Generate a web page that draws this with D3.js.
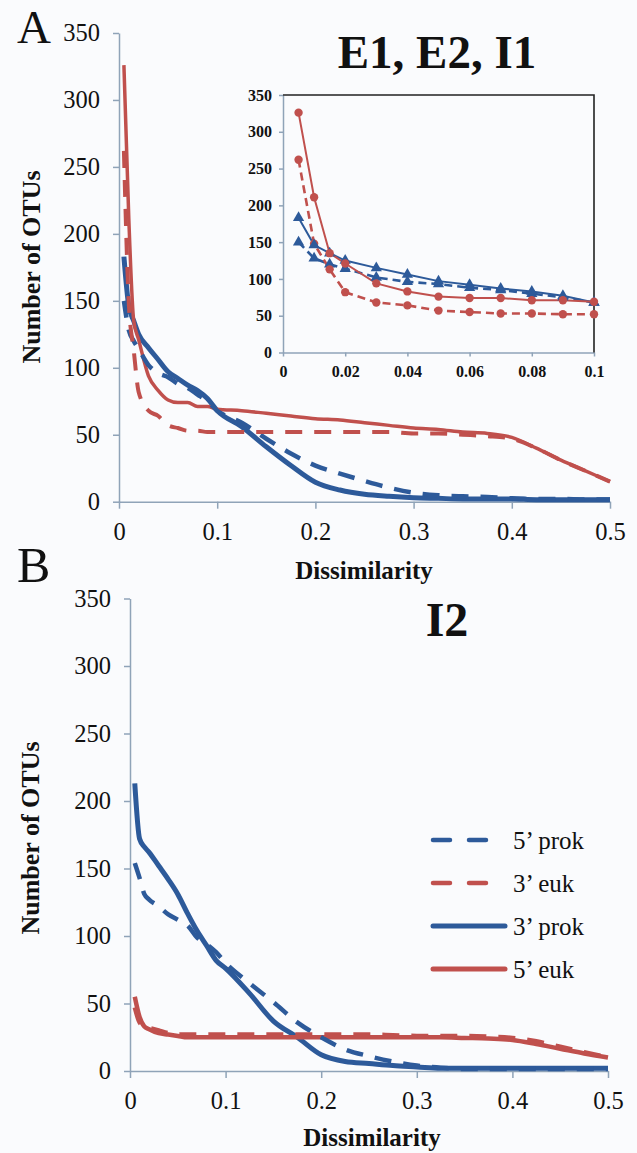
<!DOCTYPE html>
<html>
<head>
<meta charset="utf-8">
<script src="https://cdn.jsdelivr.net/npm/d3@7"></script>
<style>
  html, body { margin: 0; padding: 0; background: #fafbfd; }
  svg { display: block; }
  text { font-family: "Liberation Serif", "Times New Roman", serif; fill: #111; }
</style>
</head>
<body>
<div id="chart"></div>
<script>
// dissimilarity cut-offs (shared by every series)
var dissim = [0.005, 0.01, 0.015, 0.02, 0.03, 0.04, 0.05, 0.06, 0.07, 0.08, 0.09, 0.1,
              0.125, 0.15, 0.175, 0.2, 0.225, 0.25, 0.275, 0.3, 0.325, 0.35, 0.375, 0.4,
              0.425, 0.45, 0.475, 0.5];

// panel A : E1, E2, I1
var a5prok = [150, 128, 120, 114, 102, 96, 93, 88, 85, 80, 75, 68,
              59, 47, 36, 27, 21, 15.5, 10.5, 6.7, 4.8, 4, 3.5, 2.5, 2, 2, 1.7, 1.7];
var a3euk  = [262, 148, 113, 82, 68, 64, 57, 55, 53, 53, 52, 52,
              52, 52, 52, 52, 52, 52, 52, 51, 51, 50, 49, 47, 40, 31, 23, 15];
var a3prok = [183, 146, 135, 125, 115, 106, 97, 92, 87, 83, 77, 68,
              56, 41, 27, 14.5, 8.7, 5.5, 4, 3, 2.5, 2, 2, 2, 1.5, 1.5, 1.5, 1.5];
var a5euk  = [326, 211, 135, 121, 94, 83, 76, 74, 74, 71, 71, 69,
              68, 66, 64, 62, 61, 59, 57, 55, 54, 52, 51, 48, 40, 31, 23, 15];

// panel B : I2
var b5prok = [154, 143, 131, 127, 122, 116, 112, 108, 99, 94, 88, 80,
              65, 51, 36, 25, 16, 11, 7, 4, 2.5, 1.5, 1.5, 1.5, 1.5, 1.5, 1.5, 1.5];
var b3euk  = [47, 36, 33, 32, 30, 28, 27, 27, 27, 27, 27, 27,
              27, 27, 27, 27, 27, 27, 26.5, 26, 26, 26, 25.5, 24.5, 22, 18, 14, 10];
var b3prok = [213, 172, 166, 162, 152, 142, 131, 117, 104, 93, 82, 76,
              57.5, 37, 25, 12, 7, 5.5, 4, 3, 2, 2, 2, 2, 2, 2, 2, 2];
var b5euk  = [55, 40, 33, 31, 28, 27, 26, 25, 25, 25, 25, 25,
              25, 25, 25, 25, 25, 25, 25, 25, 25, 24.5, 24, 23, 20, 16.5, 13, 10];

// tick labels
var yTicks = [0, 50, 100, 150, 200, 250, 300, 350];
var xTicks = [0, 0.1, 0.2, 0.3, 0.4, 0.5];
var insetXTicks = [0, 0.02, 0.04, 0.06, 0.08, 0.1];

var seriesNames = ["5\u2019 prok", "3\u2019 euk", "3\u2019 prok", "5\u2019 euk"];

var blue = "#2d5a9a", red = "#c0504d", axisColor = "#8fa3b8";

var svg = d3.select("#chart").append("svg")
    .attr("width", 637)
    .attr("height", 1153);

// helper: draws one axis and styles it
var drawAxis = function(g, axis, fontSize, bold) {
    g.call(axis);
    g.select(".domain").attr("stroke", axisColor).attr("stroke-width", 1.5);
    g.selectAll(".tick line").attr("stroke", axisColor).attr("stroke-width", 1.5);
    g.selectAll(".tick text")
        .attr("fill", "#111")
        .style("font-family", "'Liberation Serif', serif")
        .style("font-size", fontSize + "px")
        .style("font-weight", bold ? "bold" : "normal");
};

var makeSeries = function(a, b, c, d) {
    return [
        { name: seriesNames[0], values: a, color: blue, dash: true },
        { name: seriesNames[1], values: b, color: red, dash: true },
        { name: seriesNames[2], values: c, color: blue, dash: false },
        { name: seriesNames[3], values: d, color: red, dash: false }
    ];
};

var drawPanel = function(x, y, series, widths) {
    var xAxis = d3.axisBottom(x).tickValues(xTicks).tickFormat(String)
        .tickSize(7).tickSizeOuter(0).tickPadding(14);
    var yAxis = d3.axisLeft(y).tickValues(yTicks).tickFormat(String)
        .tickSize(6).tickSizeOuter(0).tickPadding(13);

    drawAxis(svg.append("g").attr("transform", "translate(0," + y(0) + ")"), xAxis, 24.5, false);
    drawAxis(svg.append("g").attr("transform", "translate(" + x(0) + ",0)"), yAxis, 24.5, false);

    var line = d3.line()
        .x(function(d, i) { return x(dissim[i]); })
        .y(function(d) { return y(d); })
        .curve(d3.curveMonotoneX);

    // solid lines first, dashed lines above them
    var order = [series[2], series[3], series[0], series[1]];
    svg.append("g").selectAll("path")
        .data(order)
        .enter()
        .append("path")
        .attr("d", function(s) { return line(s.values); })
        .attr("fill", "none")
        .attr("stroke", function(s) { return s.color; })
        .attr("stroke-width", function(s) { return widths[series.indexOf(s)]; })
        .attr("stroke-dasharray", function(s) { return s.dash ? "17,12" : null; })
        .attr("stroke-linejoin", "round");
};

// ---------- panel A ----------
var xA = d3.scaleLinear().domain([0, 0.5]).range([119, 610]);
var yA = d3.scaleLinear().domain([0, 350]).range([501.7, 33]);
var seriesA = makeSeries(a5prok, a3euk, a3prok, a5euk);
drawPanel(xA, yA, seriesA, [4.5, 4, 5, 3.5]);

// ---------- inset (first 12 cut-offs of panel A) ----------
var xI = d3.scaleLinear().domain([0, 0.1]).range([283, 594]);
var yI = d3.scaleLinear().domain([0, 350]).range([352.5, 95]);

var insetX = d3.axisBottom(xI).tickValues(insetXTicks).tickFormat(String)
    .tickSize(4).tickSizeOuter(0).tickPadding(9);
var insetY = d3.axisLeft(yI).tickValues(yTicks).tickFormat(String)
    .tickSize(4).tickSizeOuter(0).tickPadding(7);
drawAxis(svg.append("g").attr("transform", "translate(0," + yI(0) + ")"), insetX, 16, true);
drawAxis(svg.append("g").attr("transform", "translate(" + xI(0) + ",0)"), insetY, 16, true);

// top and right frame of the inset
svg.append("path")
    .attr("d", "M" + xI(0) + "," + yI(350) + "H" + xI(0.1) + "V" + yI(0))
    .attr("fill", "none")
    .attr("stroke", "#222")
    .attr("stroke-width", 1.6);

var insetLine = d3.line()
    .x(function(d, i) { return xI(dissim[i]); })
    .y(function(d) { return yI(d); });

var insetSeries = seriesA.map(function(s) {
    return { color: s.color, dash: s.dash, prok: s.name.indexOf("prok") > -1, values: s.values.slice(0, 12) };
});

var insetG = svg.append("g");
insetG.selectAll("path.ln")
    .data(insetSeries)
    .enter()
    .append("path")
    .attr("class", "ln")
    .attr("d", function(s) { return insetLine(s.values); })
    .attr("fill", "none")
    .attr("stroke", function(s) { return s.color; })
    .attr("stroke-width", function(s) { return s.dash ? 2.6 : 2; })
    .attr("stroke-dasharray", function(s) { return s.dash ? "8,5" : null; });

insetSeries.forEach(function(s) {
    insetG.append("g").selectAll("path")
        .data(s.values)
        .enter()
        .append("path")
        .attr("transform", function(d, i) { return "translate(" + xI(dissim[i]) + "," + yI(d) + ")"; })
        .attr("fill", s.color)
        .attr("d", s.prok ? d3.symbol(d3.symbolTriangle).size(55)() : d3.symbol(d3.symbolCircle).size(55)());
});

// ---------- panel B ----------
var xB = d3.scaleLinear().domain([0, 0.5]).range([130, 608]);
var yB = d3.scaleLinear().domain([0, 350]).range([1071, 598.5]);
var seriesB = makeSeries(b5prok, b3euk, b3prok, b5euk);
drawPanel(xB, yB, seriesB, [4.5, 4.5, 5, 4.5]);

// legend in panel B
var legend = svg.append("g").selectAll("g")
    .data(seriesB)
    .enter()
    .append("g")
    .attr("transform", function(s, i) { return "translate(433," + (840 + i * 43) + ")"; });

legend.append("line")
    .attr("x1", 0)
    .attr("x2", function(s) { return s.dash ? 55 : 72; })
    .attr("stroke", function(s) { return s.color; })
    .attr("stroke-width", function(s) { return s.dash ? 4.5 : 5; })
    .attr("stroke-linecap", "round")
    .attr("stroke-dasharray", function(s) { return s.dash ? "17,19" : null; });

legend.append("text")
    .attr("x", 80)
    .attr("y", 9)
    .style("font-size", "25px")
    .text(function(s) { return s.name; });

// ---------- titles and axis labels ----------
svg.append("text").attr("x", 17).attr("y", 43).style("font-size", "47px").text("A");
svg.append("text").attr("x", 17).attr("y", 582).style("font-size", "50px").text("B");

svg.append("text")
    .attr("x", 437).attr("y", 68)
    .attr("text-anchor", "middle")
    .style("font-size", "47px").style("font-weight", "bold")
    .text("E1, E2, I1");

svg.append("text")
    .attr("x", 447).attr("y", 636)
    .attr("text-anchor", "middle")
    .style("font-size", "48px").style("font-weight", "bold")
    .text("I2");

[[364, 579], [372, 1146]].forEach(function(p) {
    svg.append("text")
        .attr("x", p[0]).attr("y", p[1])
        .attr("text-anchor", "middle")
        .style("font-size", "25px").style("font-weight", "bold")
        .text("Dissimilarity");
});

[[40, 267], [39, 838]].forEach(function(p) {
    svg.append("text")
        .attr("transform", "translate(" + p[0] + "," + p[1] + ") rotate(-90)")
        .attr("text-anchor", "middle")
        .style("font-size", "26px").style("font-weight", "bold")
        .text("Number of OTUs");
});
</script>
</body>
</html>
